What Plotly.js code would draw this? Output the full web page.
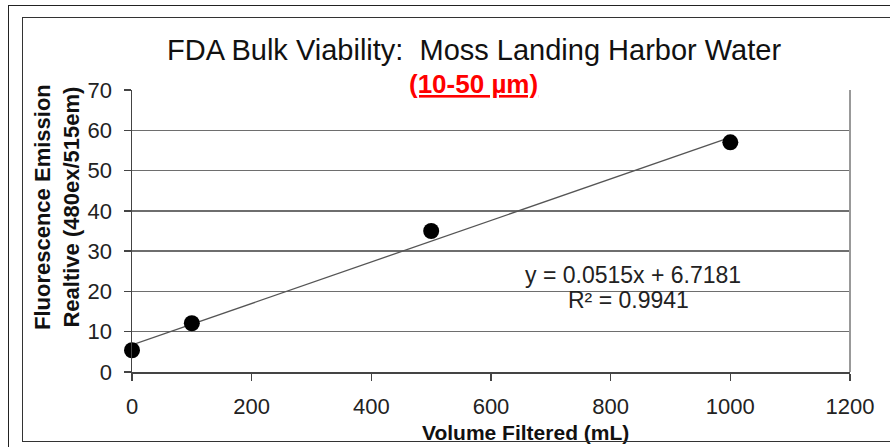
<!DOCTYPE html>
<html>
<head>
<meta charset="utf-8">
<script src="https://cdn.plot.ly/plotly-3.0.1.min.js"></script>
<style>
  html, body { margin:0; padding:0; background:#fff; }
  #wrap { position:relative; width:890px; height:447px; overflow:hidden; }
  #chart { position:absolute; left:0; top:0; width:890px; height:447px; }
  .frame { position:absolute; pointer-events:none; box-sizing:border-box; }
</style>
</head>
<body>
<div id="wrap">
  <div id="chart"></div>
  <div class="frame" style="left:8px; top:5px; width:900px; height:460px; border:1.5px solid #222;"></div>
  <div class="frame" style="left:22px; top:17px; width:890px; height:425px; border:1.5px solid #333;"></div>
</div>
<script>
// Data
var volume = [0, 100, 500, 1000];          // mL
var fluorescence = [5.4, 12.1, 35.0, 57.0]; // relative units

// Linear trendline as displayed on the chart
var slope = 0.0515;
var intercept = 6.7181;
var r2 = 0.9941;
var trendX = [0, 1000];
var trendY = trendX.map(function (x) { return slope * x + intercept; });

var xTicks = [0, 200, 400, 600, 800, 1000, 1200];
var yTicks = [0, 10, 20, 30, 40, 50, 60, 70];

var titleText = 'FDA Bulk Viability:  Moss Landing Harbor Water';
var subtitleText = '(10-50 \u00b5m)';
var xTitle = 'Volume Filtered (mL)';
var yTitle = 'Fluorescence Emission<br>Realtive (480ex/515em)';

var font = 'Arial, "Liberation Sans", sans-serif';

var traces = [
  {
    x: trendX, y: trendY, mode: 'lines', type: 'scatter',
    line: { color: '#555', width: 1.3 }, hoverinfo: 'skip', showlegend: false
  },
  {
    x: volume, y: fluorescence, mode: 'markers', type: 'scatter',
    marker: { color: '#000', size: 16 }, showlegend: false, cliponaxis: false
  }
];

var layout = {
  width: 890, height: 447,
  margin: { l: 132, r: 40, t: 90, b: 75 },
  paper_bgcolor: '#fff', plot_bgcolor: '#fff',
  font: { family: font, color: '#222' },
  showlegend: false,
  xaxis: {
    range: [0, 1200], tickvals: xTicks, ticktext: xTicks.map(String),
    ticks: 'outside', ticklen: 7, tickcolor: '#444', tickwidth: 1.3,
    showline: true, linecolor: '#444', linewidth: 1.5,
    showgrid: false, zeroline: false,
    tickfont: { family: font, size: 22, color: '#222' },
    ticklabelstandoff: 7
  },
  yaxis: {
    range: [0, 70], tickvals: yTicks, ticktext: yTicks.map(String),
    ticks: 'outside', ticklen: 7, tickcolor: '#444', tickwidth: 1.3,
    showline: true, linecolor: '#444', linewidth: 1.5,
    showgrid: true, gridcolor: '#6e6e6e', gridwidth: 1.4,
    zeroline: false,
    tickfont: { family: font, size: 22, color: '#222' },
    ticklabelstandoff: 7
  },
  shapes: [
    { type: 'line', xref: 'paper', yref: 'paper', x0: 1, x1: 1, y0: 0, y1: 1,
      line: { color: '#999', width: 2 } }
  ],
  annotations: [
    { text: titleText, xref: 'paper', yref: 'paper', x: 0.4763, y: 1.1418,
      xanchor: 'center', yanchor: 'middle', showarrow: false,
      font: { family: font, size: 29, color: '#111' } },
    { text: '<b><u>' + subtitleText + '</u></b>', xref: 'paper', yref: 'paper', x: 0.4763, y: 1.0213,
      xanchor: 'center', yanchor: 'middle', showarrow: false,
      font: { family: font, size: 26, color: '#ff0000' } },
    { text: 'y = ' + slope + 'x + ' + intercept, xref: 'paper', yref: 'paper', x: 0.6978, y: 0.344,
      xanchor: 'center', yanchor: 'middle', showarrow: false,
      font: { family: font, size: 23, color: '#222' } },
    { text: 'R\u00b2 = ' + r2, xref: 'paper', yref: 'paper', x: 0.6922, y: 0.2553,
      xanchor: 'center', yanchor: 'middle', showarrow: false,
      font: { family: font, size: 23, color: '#222' } },
    { text: '<b>' + yTitle + '</b>', xref: 'paper', yref: 'paper', x: -0.1045, y: 0.585,
      xanchor: 'center', yanchor: 'middle', showarrow: false, textangle: -90,
      font: { family: font, size: 22, color: '#111' } },
    { text: '<b>' + xTitle + '</b>', xref: 'paper', yref: 'paper', x: 0.5474, y: -0.2128,
      xanchor: 'center', yanchor: 'middle', showarrow: false,
      font: { family: font, size: 21, color: '#111' } }
  ]
};

Plotly.newPlot('chart', traces, layout, { displayModeBar: false, staticPlot: true });
</script>
</body>
</html>
